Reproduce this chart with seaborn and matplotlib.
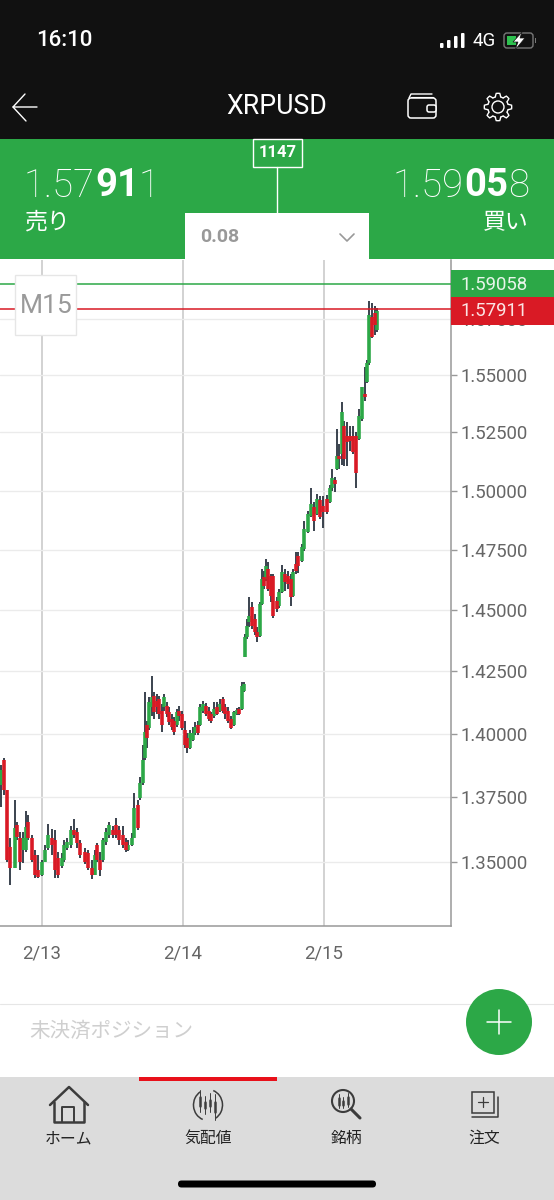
import numpy as np
import pandas as pd
import matplotlib
matplotlib.use('Agg')
import matplotlib.pyplot as plt
from matplotlib.patches import Rectangle, FancyBboxPatch, Circle, Polygon, Arc
import seaborn as sns

# candle times, hours after 2/13 00:00
hours = [-7.0, -6.5, -6.0, -5.4, -4.6, -4.3, -3.7, -3.2, -2.7, -2.4, -1.7, -1.2, -0.7, 0.0, 0.5, 1.0, 1.7, 2.2, 2.7, 3.4,
         3.7, 4.3, 4.9, 5.4, 6.0, 6.5, 7.3, 7.8, 8.5, 9.0, 9.4, 9.9, 10.4, 10.9, 11.4, 12.1, 12.6, 13.1, 13.8, 14.3,
         14.6, 15.3, 15.7, 16.3, 16.7, 17.2, 17.5, 17.9, 18.2, 18.7, 19.1, 19.6, 19.9, 20.4, 20.8, 21.3, 21.6, 22.1, 22.5, 23.0,
         23.3, 23.8, 24.3, 24.7, 25.2, 25.7, 26.0, 26.6, 26.9, 27.4, 27.9, 28.4, 28.8, 29.3, 29.8, 30.3, 30.8, 31.1, 31.7, 32.2,
         32.7, 33.2, 33.5, 34.0, 34.4, 34.6, 34.9, 35.2, 35.7, 36.3, 36.6, 37.1, 37.4, 37.8, 38.1, 38.5, 39.0, 39.3, 40.0, 40.3,
         40.8, 41.4, 41.9, 42.4, 42.7, 43.2, 43.6, 44.3, 44.6, 45.3, 45.8, 46.3, 46.8, 47.3, 47.8, 48.5, 49.0, 49.4, 49.9, 50.2,
         50.5, 51.0, 51.4, 51.9, 52.4, 52.9, 53.4, 54.0, 54.5, 55.0, 55.3, 55.7, 56.2, 56.7, 57.0]
opens = [1.3797, 1.3897, 1.3778, 1.3558, 1.3477, 1.3642, 1.3592, 1.3546, 1.3546, 1.3654, 1.3592, 1.3527, 1.3470, 1.3451, 1.3500, 1.3554, 1.3592, 1.3584, 1.3515, 1.3485,
         1.3508, 1.3554, 1.3565, 1.3623, 1.3615, 1.3573, 1.3538, 1.3534, 1.3477, 1.3451, 1.3565, 1.3508, 1.3508, 1.3577, 1.3604, 1.3623, 1.3642, 1.3623, 1.3604, 1.3577,
         1.3546, 1.3565, 1.3592, 1.3719, 1.3746, 1.3805, 1.3905, 1.4036, 1.4024, 1.4105, 1.4149, 1.4129, 1.4137, 1.4089, 1.4105, 1.4109, 1.4085, 1.4057, 1.4049, 1.4036,
         1.4089, 1.4077, 1.4016, 1.3984, 1.3944, 1.3976, 1.4004, 1.4036, 1.4036, 1.4089, 1.4109, 1.4089, 1.4077, 1.4069, 1.4105, 1.4089, 1.4137, 1.4105, 1.4089, 1.4057,
         1.4036, 1.4077, 1.4097, 1.4097, 1.4169, 1.4307, 1.4389, 1.4450, 1.4512, 1.4463, 1.4410, 1.4393, 1.4525, 1.4637, 1.4629, 1.4671, 1.4642, 1.4642, 1.4537, 1.4516,
         1.4575, 1.4650, 1.4642, 1.4629, 1.4558, 1.4692, 1.4725, 1.4704, 1.4754, 1.4826, 1.4894, 1.4932, 1.4902, 1.4958, 1.4936, 1.4966, 1.4953, 1.5009, 1.5043, 1.5094,
         1.5150, 1.5158, 1.5278, 1.5235, 1.5235, 1.5235, 1.5235, 1.5222, 1.5308, 1.5415, 1.5470, 1.5553, 1.5755, 1.5773, 1.5698]
closes = [1.3857, 1.3778, 1.3508, 1.3477, 1.3631, 1.3596, 1.3500, 1.3592, 1.3635, 1.3592, 1.3508, 1.3451, 1.3443, 1.3500, 1.3546, 1.3604, 1.3565, 1.3470, 1.3451, 1.3515,
          1.3565, 1.3577, 1.3623, 1.3604, 1.3573, 1.3527, 1.3500, 1.3477, 1.3451, 1.3527, 1.3508, 1.3470, 1.3584, 1.3615, 1.3642, 1.3604, 1.3604, 1.3584, 1.3565, 1.3546,
          1.3565, 1.3592, 1.3707, 1.3631, 1.3805, 1.3897, 1.4008, 1.3984, 1.4125, 1.4145, 1.4085, 1.4105, 1.4077, 1.4036, 1.4145, 1.4077, 1.4045, 1.4028, 1.4008, 1.4085,
          1.4069, 1.4024, 1.3956, 1.3944, 1.4004, 1.4004, 1.4028, 1.4004, 1.4105, 1.4117, 1.4077, 1.4057, 1.4049, 1.4097, 1.4077, 1.4117, 1.4089, 1.4077, 1.4049, 1.4024,
          1.4085, 1.4093, 1.4077, 1.4190, 1.4198, 1.4389, 1.4434, 1.4475, 1.4434, 1.4410, 1.4389, 1.4525, 1.4629, 1.4600, 1.4683, 1.4587, 1.4558, 1.4475, 1.4504, 1.4575,
          1.4658, 1.4617, 1.4608, 1.4554, 1.4658, 1.4662, 1.4683, 1.4763, 1.4839, 1.4902, 1.4945, 1.4873, 1.4966, 1.4890, 1.4911, 1.4911, 1.5009, 1.5052, 1.5030, 1.5150,
          1.5137, 1.5338, 1.5137, 1.5210, 1.5214, 1.5167, 1.5073, 1.5321, 1.5449, 1.5402, 1.5553, 1.5766, 1.5667, 1.5721, 1.5786]
highs = [1.3877, 1.3905, 1.3778, 1.3592, 1.3738, 1.3654, 1.3615, 1.3615, 1.3696, 1.3681, 1.3604, 1.3546, 1.3527, 1.3508, 1.3565, 1.3646, 1.3627, 1.3623, 1.3538, 1.3534,
         1.3584, 1.3592, 1.3638, 1.3665, 1.3631, 1.3584, 1.3554, 1.3546, 1.3508, 1.3546, 1.3573, 1.3538, 1.3592, 1.3631, 1.3654, 1.3638, 1.3669, 1.3638, 1.3638, 1.3592,
         1.3584, 1.3611, 1.3766, 1.3738, 1.3829, 1.3956, 1.4165, 1.4049, 1.4145, 1.4230, 1.4165, 1.4157, 1.4149, 1.4117, 1.4157, 1.4125, 1.4105, 1.4077, 1.4065, 1.4097,
         1.4109, 1.4089, 1.4049, 1.4004, 1.4016, 1.4028, 1.4045, 1.4049, 1.4117, 1.4129, 1.4121, 1.4105, 1.4085, 1.4125, 1.4125, 1.4137, 1.4145, 1.4117, 1.4105, 1.4069,
         1.4089, 1.4101, 1.4105, 1.4206, 1.4206, 1.4402, 1.4463, 1.4554, 1.4533, 1.4484, 1.4430, 1.4533, 1.4671, 1.4662, 1.4712, 1.4700, 1.4650, 1.4650, 1.4554, 1.4587,
         1.4687, 1.4671, 1.4662, 1.4650, 1.4671, 1.4742, 1.4742, 1.4775, 1.4873, 1.4915, 1.5009, 1.4953, 1.4987, 1.4979, 1.4975, 1.4983, 1.5022, 1.5094, 1.5060, 1.5265,
         1.5201, 1.5380, 1.5300, 1.5295, 1.5278, 1.5278, 1.5252, 1.5351, 1.5449, 1.5535, 1.5566, 1.5830, 1.5821, 1.5808, 1.5799]
lows = [1.3711, 1.3758, 1.3500, 1.3413, 1.3477, 1.3584, 1.3470, 1.3496, 1.3538, 1.3584, 1.3500, 1.3439, 1.3439, 1.3447, 1.3500, 1.3546, 1.3527, 1.3439, 1.3439, 1.3477,
        1.3500, 1.3546, 1.3554, 1.3592, 1.3554, 1.3515, 1.3492, 1.3470, 1.3435, 1.3451, 1.3500, 1.3447, 1.3500, 1.3565, 1.3592, 1.3592, 1.3592, 1.3565, 1.3554, 1.3538,
        1.3542, 1.3561, 1.3592, 1.3623, 1.3738, 1.3797, 1.3897, 1.3944, 1.4016, 1.4069, 1.4057, 1.4077, 1.4057, 1.4008, 1.4089, 1.4065, 1.4036, 1.4016, 1.3996, 1.4028,
        1.4049, 1.4016, 1.3944, 1.3925, 1.3940, 1.3972, 1.3996, 1.3996, 1.4032, 1.4081, 1.4069, 1.4049, 1.4041, 1.4061, 1.4073, 1.4085, 1.4081, 1.4057, 1.4041, 1.4020,
        1.4032, 1.4073, 1.4073, 1.4093, 1.4165, 1.4307, 1.4381, 1.4430, 1.4422, 1.4398, 1.4369, 1.4389, 1.4521, 1.4587, 1.4621, 1.4579, 1.4533, 1.4467, 1.4492, 1.4508,
        1.4571, 1.4579, 1.4587, 1.4516, 1.4554, 1.4650, 1.4654, 1.4700, 1.4746, 1.4822, 1.4890, 1.4830, 1.4898, 1.4881, 1.4843, 1.4902, 1.4949, 1.5000, 1.4995, 1.5086,
        1.5094, 1.5111, 1.5107, 1.5107, 1.5171, 1.5158, 1.5009, 1.5218, 1.5300, 1.5385, 1.5466, 1.5543, 1.5663, 1.5676, 1.5689]

price_ticks = [1.35, 1.375, 1.40, 1.425, 1.45, 1.475, 1.50, 1.525, 1.55, 1.575]
date_ticks = [0, 24, 48]
date_labels = ['2/13', '2/14', '2/15']
bid = 1.57911
ask = 1.59058

GREEN = '#2ca847'
RED = '#d91a25'
DARK = '#2b3440'
W, H = 554, 1200

sns.set_theme(style='white')
plt.rcParams['font.family'] = ['Roboto', 'Noto Sans CJK JP', 'DejaVu Sans']

rows = []
for i in range(len(hours)):
    rows.append({'candle': i, 'hour': hours[i], 'wick': highs[i], 'body': opens[i], 'side': 'up' if closes[i] >= opens[i] else 'down'})
    rows.append({'candle': i, 'hour': hours[i], 'wick': lows[i], 'body': closes[i], 'side': 'up' if closes[i] >= opens[i] else 'down'})
candles = pd.DataFrame(rows)

fig = plt.figure(figsize=(W / 100, H / 100), dpi=100, facecolor='white')

# chart spans x 0-451, y 260-926 of the screen
ax = fig.add_axes([0, 1 - 926 / H, 451 / W, 666 / H])
ax.set_yscale('log')
ax.grid(True, axis='y', which='major', color='#ebebeb', lw=1.0)
ax.grid(True, axis='x', which='major', color='#cfcfcf', lw=1.3)
ax.set_axisbelow(True)

sns.lineplot(data=candles, x='hour', y='wick', units='candle', estimator=None, color=DARK,
             lw=1.3, solid_capstyle='butt', legend=False, ax=ax)
sns.lineplot(data=candles, x='hour', y='body', units='candle', estimator=None, hue='side',
             palette={'up': GREEN, 'down': RED}, lw=2.6, solid_capstyle='butt', legend=False, ax=ax)

ax.axhline(ask, color=GREEN, lw=1.1, zorder=5)
ax.axhline(bid, color=RED, lw=1.1, zorder=5)

ax.set_xlim(-7.15, 69.62)
ax.set_ylim(1.3257, 1.6014)
ax.set_yticks(price_ticks)
ax.set_yticklabels(['%.5f' % p for p in price_ticks])
ax.minorticks_off()
ax.set_xticks(date_ticks)
ax.set_xticklabels(date_labels)
ax.yaxis.tick_right()
ax.set_xlabel('')
ax.set_ylabel('')
ax.tick_params(axis='y', which='major', length=4, width=1, color='#999999', labelcolor='#666666', labelsize=13.4, pad=3, right=True)
ax.tick_params(axis='x', which='major', length=0, labelcolor='#666666', labelsize=13.4, pad=13)
for side in ['top', 'left']:
    ax.spines[side].set_visible(False)
for side in ['right', 'bottom']:
    ax.spines[side].set_color('#999999')
    ax.spines[side].set_linewidth(1.1)

# app chrome drawn on top in screen pixels
ui = fig.add_axes([0, 0, 1, 1], zorder=10)
ui.set_xlim(0, W)
ui.set_ylim(H, 0)
ui.axis('off')
ui.patch.set_alpha(0)


def box(x0, y0, x1, y1, fc, ec='none', lw=0, z=1):
    ui.add_patch(Rectangle((x0, y0), x1 - x0, y1 - y0, fc=fc, ec=ec, lw=lw, zorder=z))


def label(x, y, s, size, color='white', ha='center', weight='normal', z=5, **kw):
    # va center sits a little high for these fonts
    return ui.text(x, y + 1.5, s, fontsize=size, color=color, ha=ha, va='center', fontweight=weight, zorder=z, **kw)


def stroke(xs, ys, color='white', lw=1.0, z=4):
    ui.plot(xs, ys, color=color, lw=lw, solid_capstyle='round', solid_joinstyle='round', zorder=z)


def price_runs(x, y, runs, size, right=False):
    # split-weight quote, pieces placed by their measured width
    rend = fig.canvas.get_renderer()
    widths = []
    for s, weight in runs:
        t = label(0, y, s, size, ha='left', weight=weight)
        widths.append(t.get_window_extent(rend).width)
        t.remove()
    pos = x - sum(widths) if right else x
    for (s, weight), w in zip(runs, widths):
        label(pos, y, s, size, ha='left', weight=weight)
        pos += w


# status + title bar
box(0, 0, W, 139, '#111111')
label(36, 39.5, '16:10', 16, ha='left', weight='medium')
for bx, bh in zip([440, 447, 454, 461], [5, 8, 12, 15]):
    ui.add_patch(FancyBboxPatch((bx, 48 - bh), 3.5, bh, boxstyle='round,pad=0,rounding_size=1', fc='white', ec='none', zorder=3))
label(473, 40, '4G', 13.5, ha='left')
ui.add_patch(FancyBboxPatch((504, 33), 29, 15, boxstyle='round,pad=0,rounding_size=3', fc='none', ec='#777777', lw=1, zorder=3))
box(507, 36, 516, 45, '#2ec04f', z=3)
box(535, 38, 536, 43, '#777777', z=3)
ui.add_patch(Polygon([[522, 32], [513, 42], [518, 42], [515, 50], [525, 38], [520, 38]], fc='white', ec='#111111', lw=0.5, zorder=4))
label(277, 105.5, 'XRPUSD', 19.2, weight='normal')
stroke([37, 13, 25], [107, 107, 94], lw=1.0)
stroke([13, 26], [107, 121], lw=1.0)
ui.add_patch(FancyBboxPatch((408, 98), 28, 20, boxstyle='round,pad=0,rounding_size=3', fc='none', ec='white', lw=1.1, zorder=3))
stroke([409, 411, 432], [98, 94, 94], lw=1.0)
stroke([411, 433], [96.5, 96.5], lw=0.8)
ui.add_patch(FancyBboxPatch((427, 105), 9, 7, boxstyle='round,pad=0,rounding_size=2', fc='#111111', ec='white', lw=1.1, zorder=4))
theta = np.linspace(0, 2 * np.pi, 97)
gear_r = 12 + 1.7 * np.clip(2.2 * np.cos(8 * theta), -1, 1)
ui.add_patch(Polygon(np.c_[498 + gear_r * np.cos(theta), 107 + gear_r * np.sin(theta)], fc='none', ec='white', lw=1.0, zorder=3))
ui.add_patch(Circle((498, 107), 6, fc='none', ec='white', lw=1.0, zorder=3))

# quote band
box(0, 139, W, 259, GREEN)
price_runs(24, 184.5, [('1.57', 'light'), ('91', 'bold'), ('1', 'light')], 27.5)
price_runs(529, 184.5, [('1.59', 'light'), ('05', 'bold'), ('8', 'light')], 27.5, right=True)
label(25, 221, '売り', 16.5, ha='left')
label(529, 221, '買い', 16.5, ha='right')
box(253, 139, 302, 167, GREEN, ec='white', lw=1)
label(277.5, 151, '1147', 12, weight='bold')
stroke([277, 277], [167, 213], lw=1.0)
box(185, 213, 369, 260, 'white', z=2)
label(200, 235.5, '0.08', 14, color='#999999', ha='left', weight='bold')
stroke([340, 347, 354], [234, 241, 234], color='#999999', lw=1.2)

# live price flags and timeframe tag
box(451, 270, W, 297, GREEN, z=3)
box(451, 297, W, 325, RED, z=3)
label(461, 283, '1.59058', 13.4, ha='left', color='#e8f5ea')
label(461, 310, '1.57911', 13.4, ha='left', color='#fbe4e4')
box(15, 275, 76, 335, 'white', ec='#e6e6e6', lw=1, z=3)
label(46, 304.5, 'M15', 19, color='#9a9a9a')

# positions row
stroke([0, W], [1004, 1004], color='#e6e6e6', lw=0.8, z=1)
label(29, 1029.5, '未決済ポジション', 14.8, color='#cfcfcf', ha='left')
ui.add_patch(Circle((499, 1022), 33, fc=GREEN, ec='none', zorder=3))
stroke([487, 511], [1022, 1022], lw=1.1)
stroke([499, 499], [1010, 1034], lw=1.1)

# tab bar
INK = '#3c3c3c'
box(0, 1077, W, 1200, '#dcdcdc')
box(139, 1077, 277, 1081, '#e8101a', z=2)
stroke([50, 69, 88], [1105, 1087, 1105], color=INK, lw=1.8)
stroke([54, 54, 84, 84], [1102, 1122, 1122, 1102], color=INK, lw=1.8)
stroke([62, 62, 74, 74], [1122, 1107, 1107, 1122], color=INK, lw=1.4)
ui.add_patch(Arc((208, 1105), 29, 31, theta1=-70, theta2=60, ec=INK, lw=1.1, zorder=3))
ui.add_patch(Arc((208, 1105), 29, 31, theta1=110, theta2=240, ec=INK, lw=1.1, zorder=3))
for cx, top, bot, b0, b1 in zip([200, 205, 210, 215], [1090, 1096, 1093, 1094], [1112, 1114, 1112, 1120], [1097, 1102, 1100, 1102], [1106, 1108, 1106, 1112]):
    stroke([cx, cx], [top, bot], color=INK, lw=0.7)
    stroke([cx, cx], [b0, b1], color=INK, lw=1.8)
ui.add_patch(Circle((343, 1101), 11, fc='none', ec=INK, lw=1.5, zorder=3))
stroke([351, 360], [1109, 1118], color=INK, lw=2.2)
for cx, top, bot in zip([339, 343, 348], [1094, 1097, 1093], [1108, 1108, 1107]):
    stroke([cx, cx], [top, bot], color=INK, lw=0.7)
    stroke([cx, cx], [top + 4, bot - 3], color=INK, lw=1.8)
box(472, 1092, 494, 1113, 'none', ec=INK, lw=1.1, z=3)
stroke([478, 488], [1102, 1102], color=INK, lw=0.9)
stroke([483, 483], [1097, 1107], color=INK, lw=0.9)
stroke([472, 498, 498], [1117, 1117, 1097], color=INK, lw=1.1)
for x, s in zip([69, 208, 346, 484], ['ホーム', '気配値', '銘柄', '注文']):
    label(x, 1137, s, 11.4, color='#222222')
ui.add_patch(FancyBboxPatch((178, 1180.5), 198, 7, boxstyle='round,pad=0,rounding_size=3.5', fc='black', ec='none', zorder=3))

fig.savefig('out.png', dpi=100)
